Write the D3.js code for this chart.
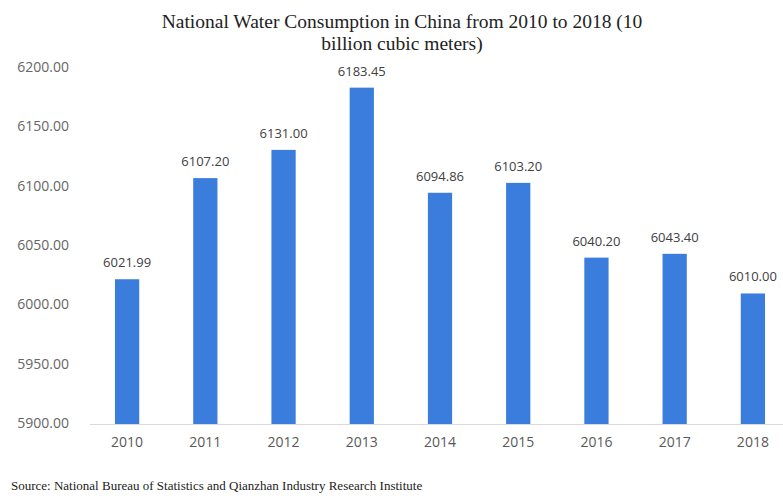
<!DOCTYPE html>
<html>
<head>
<meta charset="utf-8">
<script src="https://cdn.jsdelivr.net/npm/d3@7"></script>
<style>
  html, body { margin: 0; padding: 0; background: #fff; }
  svg { display: block; }
</style>
</head>
<body>
<svg id="chart" width="783" height="496"></svg>
<script>
// Annual national water consumption (10 billion cubic meters)
const years = ["2010", "2011", "2012", "2013", "2014", "2015", "2016", "2017", "2018"];
const consumption = [6021.99, 6107.20, 6131.00, 6183.45, 6094.86, 6103.20, 6040.20, 6043.40, 6010.00];
const yTicks = [5900, 5950, 6000, 6050, 6100, 6150, 6200];

const titleLines = ["National Water Consumption in China from 2010 to 2018 (10", "billion cubic meters)"];
const sourceText = "Source: National Bureau of Statistics and Qianzhan Industry Research Institute";

const svg = d3.select("#chart");
const sansFont = "'Open Sans', 'Noto Sans', sans-serif";
const serifFont = "'Liberation Serif', 'DejaVu Serif', serif";

const x = d3.scaleBand().domain(years).range([88, 792]).paddingInner(0.69).paddingOuter(0.345);
const y = d3.scaleLinear().domain([5900, 6200]).range([424, 68]);

// Title
svg.append("g").selectAll("text").data(titleLines).join("text")
  .attr("x", 402)
  .attr("y", (d, i) => 28 + i * 22)
  .attr("text-anchor", "middle")
  .attr("font-family", serifFont)
  .attr("font-size", 19.5)
  .attr("fill", "#222")
  .text(d => d);

// Y axis labels
const yAxis = d3.axisLeft(y).tickValues(yTicks).tickFormat(d3.format(".2f")).tickSize(0).tickPadding(0);
const gy = svg.append("g").attr("transform", "translate(69,-1)").call(yAxis);
gy.select(".domain").remove();
gy.selectAll("text")
  .attr("font-family", sansFont)
  .attr("font-size", 14)
  .attr("fill", "#666");

// Baseline axis
const xAxis = d3.axisBottom(x).tickSize(0).tickPadding(13);
const gx = svg.append("g").attr("transform", `translate(0,${y(5900)})`).call(xAxis);
gx.select(".domain").attr("stroke", "#d9d9d9").attr("d", "M90,0.5H783");
gx.selectAll("text")
  .attr("font-family", sansFont)
  .attr("font-size", 14)
  .attr("fill", "#595959");

// Bars
svg.append("g").selectAll("rect").data(years).join("rect")
  .attr("x", d => x(d))
  .attr("width", x.bandwidth())
  .attr("y", (d, i) => y(consumption[i]))
  .attr("height", (d, i) => y(5900) - y(consumption[i]))
  .attr("fill", "#3b7ddc");

// Value labels
svg.append("g").selectAll("text").data(years).join("text")
  .attr("x", d => x(d) + x.bandwidth() / 2)
  .attr("y", (d, i) => y(consumption[i]) - 12)
  .attr("text-anchor", "middle")
  .attr("font-family", sansFont)
  .attr("font-size", 13)
  .attr("fill", "#404040")
  .text((d, i) => d3.format(".2f")(consumption[i]));

// Source note
svg.append("text")
  .attr("x", 11)
  .attr("y", 490)
  .attr("font-family", serifFont)
  .attr("font-size", 13)
  .attr("fill", "#222")
  .text(sourceText);
</script>
</body>
</html>
